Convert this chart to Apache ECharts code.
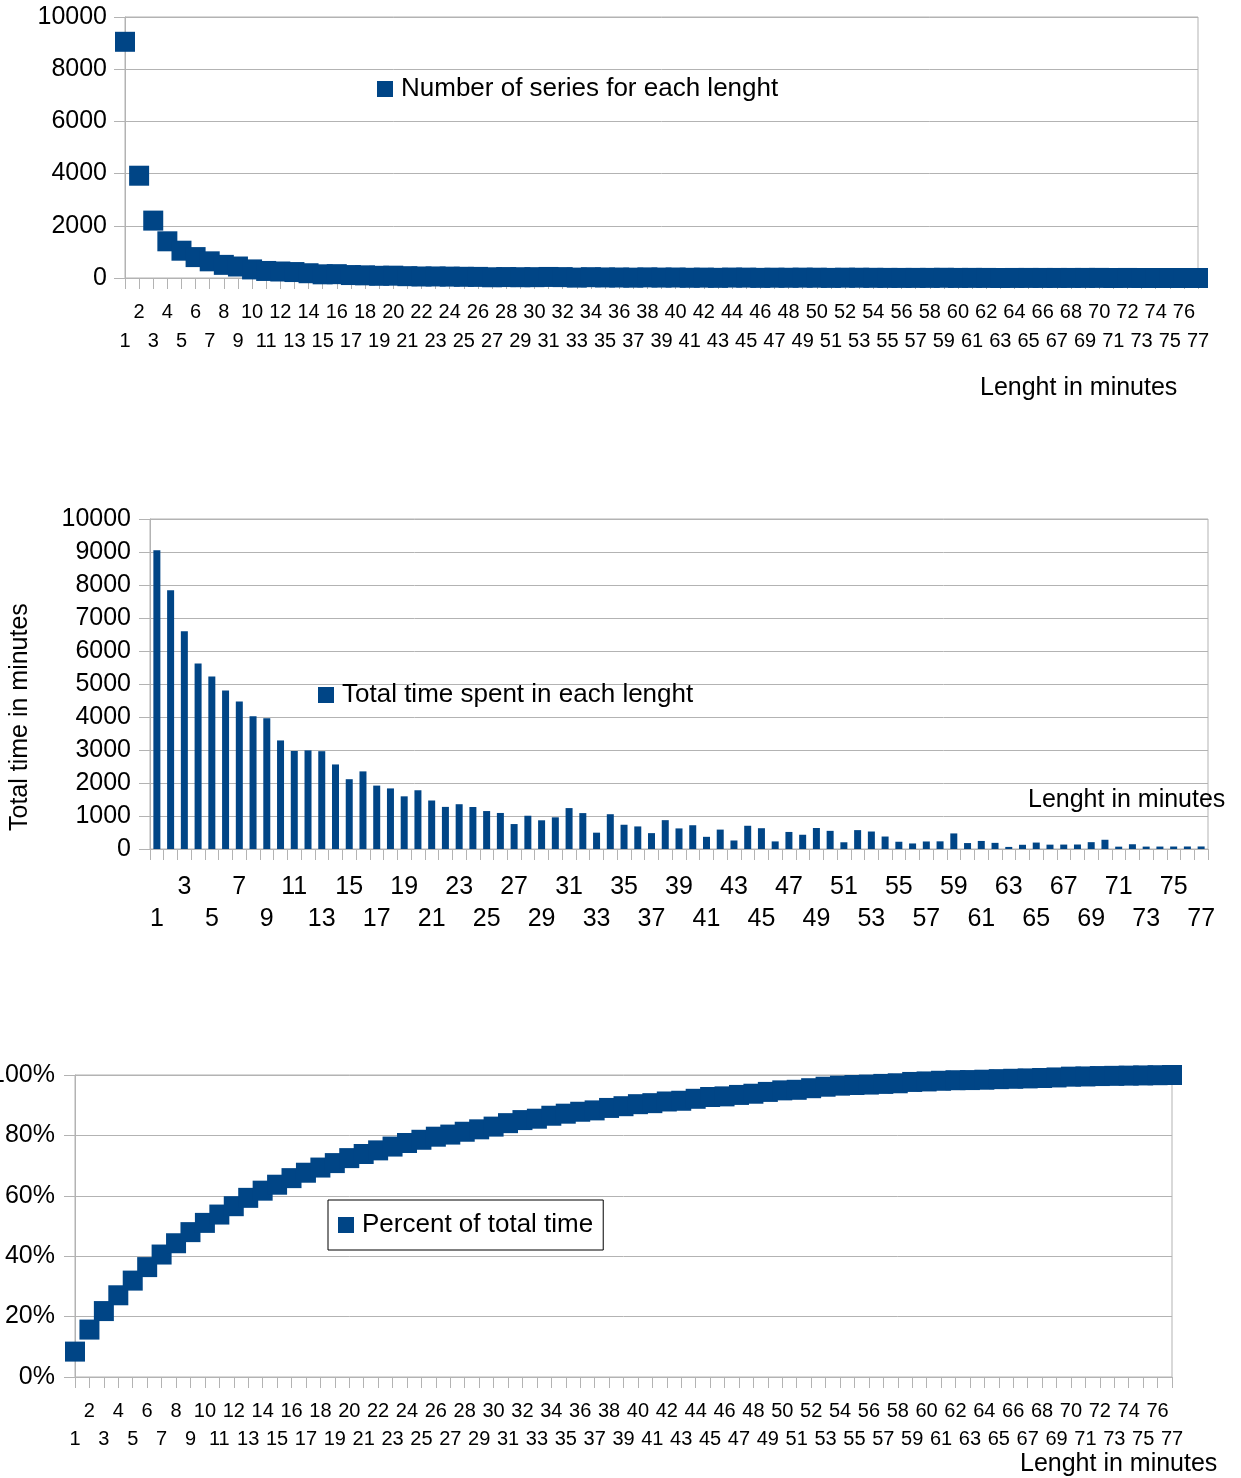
<!DOCTYPE html>
<html>
<head>
<meta charset="utf-8">
<script src="https://cdn.jsdelivr.net/npm/echarts@6/dist/echarts.min.js"></script>
<style>
  body { margin: 0; background: #fff; }
  #main { width: 1241px; height: 1478px; }
</style>
</head>
<body>
<div id="main"></div>
<script>
// Length of a series in minutes (x categories of all three charts)
let lengths = [
    '1','2','3','4','5','6','7','8','9','10',
    '11','12','13','14','15','16','17','18','19','20',
    '21','22','23','24','25','26','27','28','29','30',
    '31','32','33','34','35','36','37','38','39','40',
    '41','42','43','44','45','46','47','48','49','50',
    '51','52','53','54','55','56','57','58','59','60',
    '61','62','63','64','65','66','67','68','69','70',
    '71','72','73','74','75','76','77'
];
// Number of series for each lenght
let seriesCount = [
    9050, 3919, 2199, 1406, 1046, 801, 639, 503, 440, 329,
    270, 249, 228, 183, 141, 147, 113, 102, 84, 89,
    70, 58, 59, 53, 46, 42, 28, 36, 30, 32,
    40, 34, 15, 31, 21, 19, 13, 23, 16, 18,
    9, 14, 6, 16, 14, 5, 11, 9, 13, 11,
    4, 11, 10, 7, 4, 3, 4, 4, 8, 3,
    4, 3, 1, 2, 3, 2, 2, 2, 3, 4,
    1, 2, 1, 1, 1, 1, 1
];
// Total time spent in each lenght (minutes)
let totalTime = [
    9050, 7838, 6597, 5624, 5230, 4806, 4473, 4024, 3960, 3290,
    2970, 2988, 2964, 2562, 2115, 2352, 1921, 1836, 1596, 1780,
    1470, 1276, 1357, 1272, 1150, 1092, 756, 1008, 870, 960,
    1240, 1088, 495, 1054, 735, 684, 481, 874, 624, 720,
    369, 588, 258, 704, 630, 230, 517, 432, 637, 550,
    204, 572, 530, 378, 220, 168, 228, 232, 472, 180,
    244, 186, 63, 128, 195, 132, 134, 136, 207, 280,
    71, 144, 73, 74, 75, 76, 77
];
// Percent of total time (cumulative)
let percentTotal = [
    8.41, 15.70, 21.83, 27.06, 31.92, 36.39, 40.55, 44.29, 47.97, 51.03,
    53.79, 56.56, 59.32, 61.70, 63.67, 65.85, 67.64, 69.35, 70.83, 72.48,
    73.85, 75.04, 76.30, 77.48, 78.55, 79.57, 80.27, 81.21, 82.01, 82.91,
    84.06, 85.07, 85.53, 86.51, 87.19, 87.83, 88.28, 89.09, 89.67, 90.34,
    90.68, 91.23, 91.47, 92.12, 92.71, 92.92, 93.40, 93.80, 94.40, 94.91,
    95.10, 95.63, 96.12, 96.47, 96.68, 96.83, 97.05, 97.26, 97.70, 97.87,
    98.09, 98.27, 98.32, 98.44, 98.63, 98.75, 98.87, 99.00, 99.19, 99.45,
    99.52, 99.65, 99.72, 99.79, 99.86, 99.93, 100
];

let blue = '#004586';
let gray = '#b3b3b3';
let font = 'Liberation Sans';

// two rows of labels: odd index on top row, even index on the lower row
function twoRows(value, index) {
    return index % 2 === 0 ? '\n' + value : value;
}
// every second label only, still on two rows (1, 5, 9.. low / 3, 7, 11.. high)
function twoRowsSkip(value, index) {
    if (index % 2 === 1) return '';
    return (index / 2) % 2 === 0 ? '\n' + value : value;
}

let catAxis = function (gridIndex, gap, labelFn, size, lh, margin) {
    return {
        type: 'category',
        gridIndex: gridIndex,
        data: lengths,
        boundaryGap: gap,
        axisLine: {lineStyle: {color: gray, width: 1}},
        axisTick: {show: true, length: 11, interval: 0, lineStyle: {color: gray}},
        axisLabel: {
            interval: 0,
            formatter: labelFn,
            color: '#000',
            fontFamily: font,
            fontSize: size,
            lineHeight: lh,
            margin: margin
        },
        splitLine: {show: false}
    };
};

let valAxis = function (gridIndex, max, interval, unit, margin) {
    return {
        type: 'value',
        gridIndex: gridIndex,
        min: 0,
        max: max,
        interval: interval,
        axisLine: {show: true, lineStyle: {color: gray, width: 1}},
        axisTick: {show: true, length: 11, lineStyle: {color: gray}},
        axisLabel: {
            color: '#000', fontFamily: font, fontSize: 25, margin: margin,
            padding: [4, 0, 0, 0],
            formatter: function (v) { return String(v) + unit; }
        },
        splitLine: {show: true, lineStyle: {color: gray, width: 1}}
    };
};

let legendText = {fontFamily: font, fontSize: 26, color: '#000', lineHeight: 26, padding: [0, 0, 0, 3]};

let myChart = echarts.init(document.getElementById('main'));
let option = {
    backgroundColor: '#fff',
    animation: false,
    grid: [
        {left: 125, top: 17, width: 1073, height: 261, show: true, borderColor: gray, borderWidth: 1, outerBoundsMode: 'none', containLabel: false},
        {left: 150, top: 519, width: 1058, height: 330, show: true, borderColor: gray, borderWidth: 1, outerBoundsMode: 'none', containLabel: false},
        {left: 75, top: 1075, width: 1097, height: 302, show: true, borderColor: gray, borderWidth: 1, outerBoundsMode: 'none', containLabel: false}
    ],
    xAxis: [
        catAxis(0, false, twoRows, 20, 29, 20),
        catAxis(1, true, twoRowsSkip, 25, 32, 22),
        catAxis(2, false, twoRows, 20, 28, 20)
    ],
    yAxis: [
        valAxis(0, 10000, 2000, '', 18),
        valAxis(1, 10000, 1000, '', 19),
        valAxis(2, 100, 20, '%', 20)
    ],
    legend: [
        {
            data: ['Number of series for each lenght'],
            left: 377, top: 76, padding: 0,
            icon: 'rect', itemWidth: 16, itemHeight: 16,
            textStyle: legendText
        },
        {
            data: ['Total time spent in each lenght'],
            left: 318, top: 682, padding: 0,
            icon: 'rect', itemWidth: 16, itemHeight: 16,
            textStyle: legendText
        },
        {
            data: ['Percent of total time'],
            left: 328, top: 1200, padding: [12, 10, 12, 10],
            borderColor: '#000', borderWidth: 1,
            icon: 'rect', itemWidth: 16, itemHeight: 16,
            textStyle: legendText
        }
    ],
    graphic: [
        {type: 'text', left: 980, top: 376, style: {text: 'Lenght in minutes', font: '25px "Liberation Sans"', fill: '#000'}},
        {type: 'text', left: 1028, top: 788, style: {text: 'Lenght in minutes', font: '25px "Liberation Sans"', fill: '#000'}},
        {type: 'text', left: 1020, top: 1452, style: {text: 'Lenght in minutes', font: '25px "Liberation Sans"', fill: '#000'}},
        {type: 'text', x: 8, y: 831, rotation: Math.PI / 2, style: {text: 'Total time in minutes', font: '25px "Liberation Sans"', fill: '#000'}}
    ],
    series: [
        {
            name: 'Number of series for each lenght',
            type: 'scatter',
            xAxisIndex: 0, yAxisIndex: 0,
            symbol: 'rect', symbolSize: 20,
            itemStyle: {color: blue, opacity: 1},
            data: seriesCount
        },
        {
            name: 'Total time spent in each lenght',
            type: 'bar',
            xAxisIndex: 1, yAxisIndex: 1,
            barWidth: 7,
            itemStyle: {color: blue},
            data: totalTime
        },
        {
            name: 'Percent of total time',
            type: 'scatter',
            xAxisIndex: 2, yAxisIndex: 2,
            symbol: 'rect', symbolSize: 20,
            itemStyle: {color: blue, opacity: 1},
            data: percentTotal
        }
    ]
};
myChart.setOption(option);
</script>
</body>
</html>
